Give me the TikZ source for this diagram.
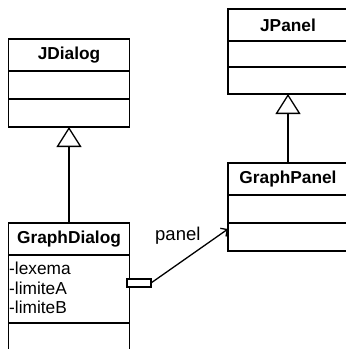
\documentclass[tikz,border=0pt]{standalone}
\usepackage{fontspec}
\setmainfont{Liberation Sans}
\usetikzlibrary{arrows.meta}
\begin{document}
\begin{tikzpicture}[x=1pt,y=-1pt,
  box/.style={draw,line width=1.3pt,rectangle,inner sep=0pt,outer sep=0pt,minimum width=121pt},
  rbox/.style={box,minimum width=120pt},
  title/.style={font=\fontsize{17.3}{19}\selectfont\bfseries},
  attr/.style={anchor=base west,inner sep=0pt,font=\fontsize{17.3}{19}\selectfont},
  inherit/.style={line width=1.3pt,-{Triangle[open,length=20pt,width=25pt,line width=1.3pt]}},
  assoc/.style={line width=1.3pt,-{Straight Barb[length=5pt,width=10pt,line width=1.3pt]}}]
\useasboundingbox (0,0) rectangle (346,349);
\clip (0,0) rectangle (346,349);
% JDialog
\node[box,title,minimum height=32pt] (jd1) at (69,55) {JDialog};
\node[box,minimum height=28pt,anchor=north] (jd2) at (jd1.south) {};
\node[box,minimum height=28pt,anchor=north] (jd3) at (jd2.south) {};
% GraphDialog
\node[box,title,minimum height=32pt] (gd1) at (69,239) {GraphDialog};
\node[box,minimum height=68pt,anchor=north] (gd2) at (gd1.south) {};
\node[box,minimum height=40pt,anchor=north] (gd3) at (gd2.south) {};
\node[attr] (a1) at (9,274) {-lexema};
\node[attr] (a2) at (9,294) {-limiteA};
\node[attr] (a3) at (9,313) {-limiteB};
% JPanel
\node[rbox,title,minimum height=32pt] (jp1) at (288,25) {JPanel};
\node[rbox,minimum height=26pt,anchor=north] (jp2) at (jp1.south) {};
\node[rbox,minimum height=27pt,anchor=north] (jp3) at (jp2.south) {};
% GraphPanel
\node[rbox,title,minimum height=32pt] (gp1) at (288,179) {GraphPanel};
\node[rbox,minimum height=28pt,anchor=north] (gp2) at (gp1.south) {};
\node[rbox,minimum height=28pt,anchor=north] (gp3) at (gp2.south) {};
% inheritance
\draw[inherit] (gd1.north) -- (jd3.south);
\draw[inherit] (gp1.north) -- (jp3.south);
% association
\node[draw,line width=1.3pt,inner sep=0pt,outer sep=0pt,minimum width=24pt,minimum height=8pt,fill=white] (ag) at (139,283) {};
\coordinate (tip) at (228,229);
\draw[assoc] (ag.east) -- (tip);
\node[attr,font=\fontsize{18.5}{19}\selectfont] (lbl) at (155,240) {panel};
\end{tikzpicture}
\end{document}
